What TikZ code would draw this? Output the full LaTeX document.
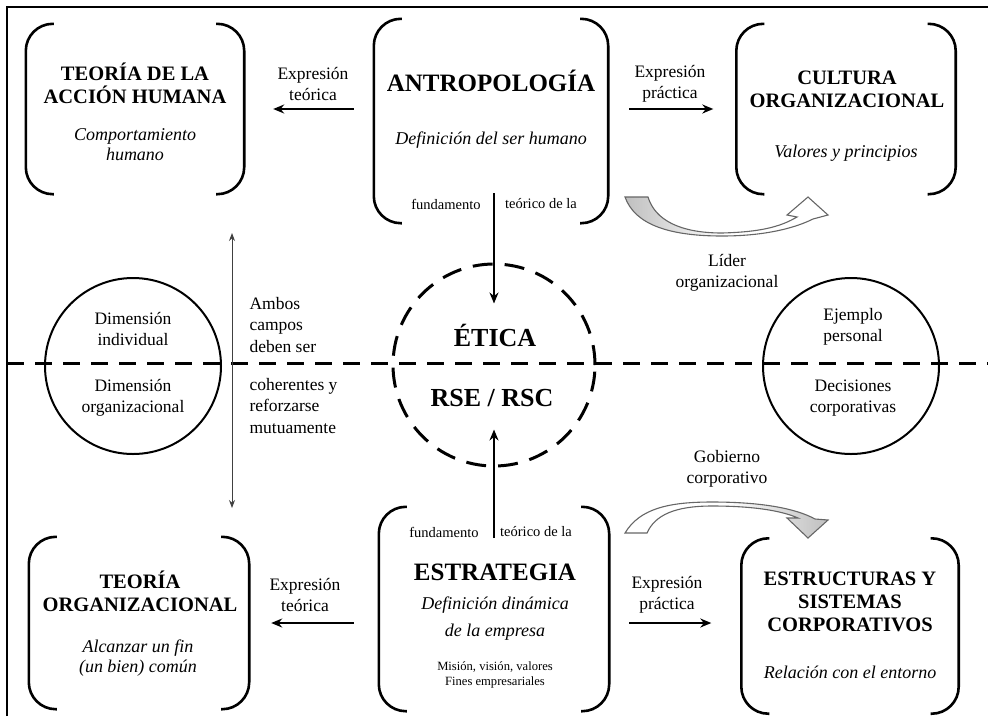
\documentclass[tikz,border=0pt]{standalone}
\usepackage{fontspec}
\setmainfont{Liberation Serif}
\usetikzlibrary{arrows.meta}

\begin{document}
\begin{tikzpicture}[x=1pt,y=-1pt,>={Stealth[length=11pt,width=9pt]},line width=2.4pt,
  caja/.style={inner sep=0pt},
  corchete/.style={rounded corners=27pt,line width=2.6pt},
  titulo/.style={font=\fontsize{20.5}{23}\selectfont\bfseries,align=center},
  grande/.style={font=\fontsize{25}{28}\selectfont\bfseries},
  subt/.style={font=\fontsize{18}{20}\selectfont\itshape,align=center},
  texto/.style={font=\fontsize{17.5}{21.5}\selectfont,align=center},
  chico/.style={font=\fontsize{14.5}{16}\selectfont},
  mini/.style={font=\fontsize{12.6}{15}\selectfont,align=center},
  corte/.style={dash pattern=on 17pt off 11pt,line width=3pt},
  flecha/.style={draw=black!60,line width=1.1pt}]
  \useasboundingbox (0,0) rectangle (988,716);

  % 外框
  \draw[line width=1.5pt] (7,716) -- (7,7) -- (988,7);

  % 六个方框
  \node[caja,minimum width=216pt,minimum height=168pt] (accion) at (135,109) {};
  \node[caja,minimum width=232pt,minimum height=202pt] (antro) at (491,121) {};
  \node[caja,minimum width=217pt,minimum height=168pt] (cultura) at (846,109) {};
  \node[caja,minimum width=218pt,minimum height=170pt] (teorg) at (139,623) {};
  \node[caja,minimum width=228pt,minimum height=202pt] (estrat) at (494,609) {};
  \node[caja,minimum width=215pt,minimum height=173pt] (estruc) at (850,626) {};
  \foreach \n in {accion,antro,cultura,teorg,estrat,estruc}{
    \draw[corchete] ([xshift=28pt]\n.north west) -- (\n.north west)
      -- (\n.south west) -- ([xshift=28pt]\n.south west);
    \draw[corchete] ([xshift=-28pt]\n.north east) -- (\n.north east)
      -- (\n.south east) -- ([xshift=-28pt]\n.south east);
  }

  % 圆
  \node[circle,draw,line width=2pt,minimum size=176pt] (indiv) at (133,366) {};
  \node[circle,draw,line width=2pt,minimum size=176pt] (ejemplo) at (851,366) {};
  \node[circle,draw,dash pattern=on 20pt off 12pt,line width=3pt,minimum size=202pt] (etica) at (494,365) {};

  % 虚线
  \coordinate (hl) at (7,363);
  \coordinate (hr) at (988,363);
  \draw[corte] (hl) -- (hr);

  % 箭头
  \draw[->,shorten <=20pt,shorten >=29pt] (antro.west |- accion.east) -- (accion.east);
  \draw[->,shorten <=21pt,shorten >=23pt] (antro.east |- cultura.west) -- (cultura.west);
  \draw[->,shorten <=25pt,shorten >=22pt] (estrat.west |- teorg.east) -- (teorg.east);
  \draw[->,shorten <=20pt,shorten >=30pt] (estrat.east |- teorg.east) -- (estruc.west |- teorg.east);
  \coordinate (fa) at (494,193);
  \coordinate (fb) at (494,538);
  \draw[->] (fa) -- ([yshift=-41pt]etica.north);
  \draw[->] (fb) -- ([yshift=38pt]etica.south);
  \coordinate (da) at (232,233);
  \coordinate (db) at (232,508);
  \draw[{Stealth[length=8pt,width=6pt]}-{Stealth[length=8pt,width=6pt]},line width=1pt,black!75] (da) -- (db);

  % 弯箭头
  \path[flecha,left color=black!25,right color=white,middle color=white]
    (625,197) .. controls (635,225) and (670,236) .. (722,236)
    .. controls (765,236) and (795,228) .. (813,219) -- (828,215) -- (808,197)
    -- (787,215) -- (797,217) .. controls (780,227) and (760,232) .. (722,233)
    .. controls (680,233) and (655,220) .. (648,197) -- cycle;
  \path[flecha,left color=white,right color=black!25,middle color=white]
    (625,533) .. controls (640,508) and (670,502) .. (712,502)
    .. controls (760,502) and (795,508) .. (815,519) -- (828,520) -- (808,538)
    -- (787,518) -- (798,518) .. controls (780,510) and (750,506) .. (712,506)
    .. controls (675,506) and (655,515) .. (647,533) -- cycle;

  % 文字
  \node[titulo] (t1) at (135,83) {TEORÍA DE LA\\ACCIÓN HUMANA};
  \node[subt] (s1) at (135,145) {Comportamiento\\humano};
  \node[grande] (t2) at (491,81) {ANTROPOLOGÍA};
  \node[subt] (s2) at (491,140) {Definición del ser humano};
  \node[chico] (f1) at (446,204) {fundamento};
  \node[chico] (f2) at (541,204) {teórico de la};
  \node[titulo] (t3) at (847,89) {CULTURA\\ORGANIZACIONAL};
  \node[subt] (s3) at (846,153) {Valores y principios};
  \node[texto] (e1) at (313,84) {Expresión\\teórica};
  \node[texto] (e2) at (670,84) {Expresión\\práctica};
  \node[texto] (lider) at (727,273) {Líder\\organizacional};
  \node[texto] (d1) at (133,329) {Dimensión\\individual};
  \node[texto] (d2) at (133,398) {Dimensión\\organizacional};
  \node[texto,align=left,anchor=west] (a1) at (245,325) {Ambos\\campos\\deben ser};
  \node[texto,align=left,anchor=west] (a2) at (245,406) {coherentes y\\reforzarse\\mutuamente};
  \node[font=\fontsize{26}{28}\selectfont\bfseries] (etica1) at (495,335) {ÉTICA};
  \node[font=\fontsize{26}{28}\selectfont\bfseries] (etica2) at (492,398) {RSE / RSC};
  \node[texto] (p1) at (853,327) {Ejemplo\\personal};
  \node[texto] (p2) at (853,398) {Decisiones\\corporativas};
  \node[texto] (gob) at (727,469) {Gobierno\\corporativo};
  \node[titulo] (t4) at (140,591) {TEORÍA\\ORGANIZACIONAL};
  \node[subt] (s4) at (138,658) {Alcanzar un fin\\(un bien) común};
  \node[texto] (e3) at (305,595) {Expresión\\teórica};
  \node[chico] (f3) at (444,532) {fundamento};
  \node[chico] (f4) at (536,532) {teórico de la};
  \node[grande] (t5) at (495,572) {ESTRATEGIA};
  \node[subt,font=\fontsize{18}{27}\selectfont\itshape] (s5) at (495,619) {Definición dinámica\\de la empresa};
  \node[mini] (m5) at (495,675) {Misión, visión, valores\\Fines empresariales};
  \node[texto] (e4) at (667,595) {Expresión\\práctica};
  \node[titulo] (t6) at (850,602) {ESTRUCTURAS Y\\SISTEMAS\\CORPORATIVOS};
  \node[subt] (s6) at (850,672) {Relación con el entorno};
\end{tikzpicture}
\end{document}
